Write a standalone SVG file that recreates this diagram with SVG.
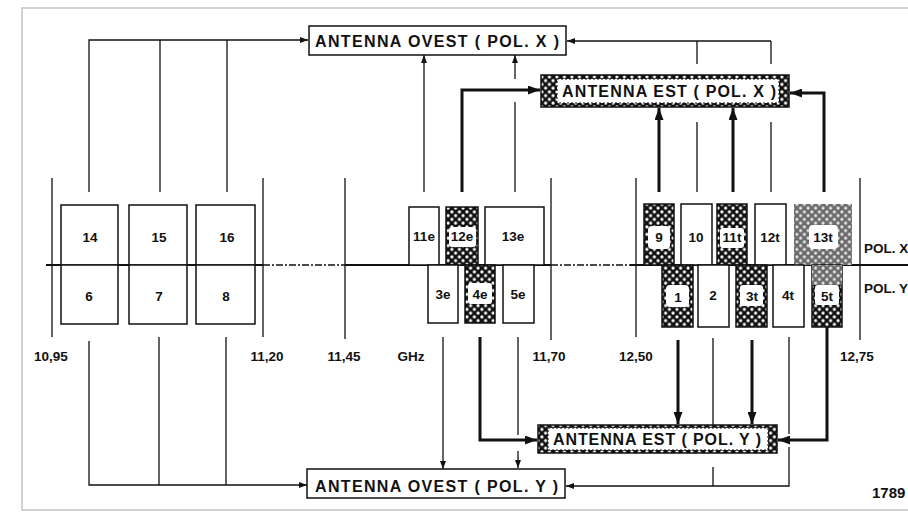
<svg xmlns="http://www.w3.org/2000/svg" width="908" height="513" viewBox="0 0 908 513">
<defs>
<pattern id="dots" width="7.5" height="7.5" patternUnits="userSpaceOnUse">
<rect width="7.5" height="7.5" fill="#111"/>
<circle cx="1.9" cy="1.9" r="1.6" fill="#fff"/>
<circle cx="5.6" cy="5.6" r="1.6" fill="#fff"/>
</pattern>
<pattern id="gdots" width="7.5" height="7.5" patternUnits="userSpaceOnUse">
<rect width="7.5" height="7.5" fill="#6a6a6a"/>
<circle cx="1.9" cy="1.9" r="1.6" fill="#e4e4e4"/>
<circle cx="5.6" cy="5.6" r="1.6" fill="#e4e4e4"/>
</pattern>
<marker id="a" markerUnits="userSpaceOnUse" markerWidth="8" markerHeight="6" refX="8" refY="3" orient="auto">
<path d="M0,0 L8,3 L0,6 z" fill="#111"/>
</marker>
<marker id="A" markerUnits="userSpaceOnUse" markerWidth="12" markerHeight="9" refX="12" refY="4.5" orient="auto">
<path d="M0,0 L12,4.5 L0,9 z" fill="#111"/>
</marker>
</defs>
<style>
.frame{fill:none;stroke:#c4c4c4;stroke-width:1.5}
.box{fill:#fff;stroke:#111;stroke-width:1.5}
.pat{fill:url(#dots);stroke:#111;stroke-width:1.5}
.gpat{fill:url(#gdots);stroke:none}
.t{fill:#fff;stroke:none}
.thin{fill:none;stroke:#111;stroke-width:1.3}
.thick{fill:none;stroke:#111;stroke-width:3}
.axis{fill:none;stroke:#111;stroke-width:1.8}
.dd{fill:none;stroke:#111;stroke-width:1.5;stroke-dasharray:7 2 2 2}
.lbl{font-family:"Liberation Sans",Arial,sans-serif;font-weight:bold;font-size:13.5px;fill:#111;text-anchor:middle}
.ax{font-family:"Liberation Sans",Arial,sans-serif;font-weight:bold;font-size:13.5px;fill:#111;text-anchor:middle}
.side{font-family:"Liberation Sans",Arial,sans-serif;font-weight:bold;font-size:13.5px;fill:#111}
.big{font-family:"Liberation Sans",Arial,sans-serif;font-weight:bold;font-size:16px;fill:#111}
.scal{fill:#fff;stroke:#111;stroke-width:1;stroke-dasharray:2 2}
</style>
<rect class="frame" x="22" y="8" width="900" height="502"/>

<g id="axis">
<path class="axis" d="M46,265 H263 M345,265 H551 M630,265 H908"/>
<path class="dd" d="M263,265 H345 M551,265 H630"/>
<path class="thin" d="M52,178 V337 M263,178 V337 M345,178 V339 M551,178 V340 M636,178 V337 M860,178 V340"/>
<text class="ax" x="51" y="361">10,95</text>
<text class="ax" x="267" y="361">11,20</text>
<text class="ax" x="344" y="361">11,45</text>
<text class="ax" x="411" y="361">GHz</text>
<text class="ax" x="549" y="361">11,70</text>
<text class="ax" x="636" y="361">12,50</text>
<text class="ax" x="857" y="361">12,75</text>
<text class="side" x="864" y="253">POL. X</text>
<text class="side" x="864" y="293">POL. Y</text>
<text class="side" x="872" y="498" style="font-size:15px">1789</text>
</g>

<g id="connectors">
<path class="thin" d="M89,192 V40 H308" marker-end="url(#a)"/>
<path class="thin" d="M160,192 V40 M227,192 V40"/>
<path class="thin" d="M89,341 V485 H307" marker-end="url(#a)"/>
<path class="thin" d="M159,337 V485 M226,337 V485"/>
<path class="thin" d="M424,192 V55" marker-end="url(#a)"/>
<path class="thin" d="M515,192 V102"/>
<path class="thin" d="M515,79 V55" marker-end="url(#a)"/>
<path class="thick" d="M462,192 V90 H540" marker-end="url(#A)"/>
<path class="thick" d="M659,192 V108" marker-end="url(#A)"/>
<path class="thick" d="M733,192 V108" marker-end="url(#A)"/>
<path class="thick" d="M824,192 V93 H790" marker-end="url(#A)"/>
<path class="thin" d="M697,192 V122 M771,192 V122"/>
<path class="thin" d="M697,64 V41 M771,64 V41 M771,41 H567" marker-end="url(#a)"/>
<path class="thin" d="M443,337 V469" marker-end="url(#a)"/>
<path class="thin" d="M518,337 V435"/>
<path class="thin" d="M518,451 V468" marker-end="url(#a)"/>
<path class="thick" d="M480,337 V440 H537" marker-end="url(#A)"/>
<path class="thick" d="M678,340 V424" marker-end="url(#A)"/>
<path class="thick" d="M752,340 V424" marker-end="url(#A)"/>
<path class="thick" d="M827,327 V440 H778" marker-end="url(#A)"/>
<path class="thin" d="M713,338 V425 M713,467 V486 M789,337 V434"/>
<path class="thin" d="M789,447 V486 H566" marker-end="url(#a)"/>
</g>

<g id="n14"><rect class="box" x="61" y="205" width="57" height="60"/><text class="lbl" x="90" y="242">14</text></g>
<g id="n6"><rect class="box" x="61" y="265" width="57" height="59"/><text class="lbl" x="89" y="301">6</text></g>
<g id="n15"><rect class="box" x="129" y="205" width="58" height="60"/><text class="lbl" x="159" y="242">15</text></g>
<g id="n7"><rect class="box" x="129" y="265" width="58" height="59"/><text class="lbl" x="159" y="301">7</text></g>
<g id="n16"><rect class="box" x="196" y="205" width="59" height="60"/><text class="lbl" x="227" y="242">16</text></g>
<g id="n8"><rect class="box" x="196" y="265" width="59" height="59"/><text class="lbl" x="226" y="301">8</text></g>

<g id="n11e"><rect class="box" x="409" y="207" width="30" height="58"/><text class="lbl" x="424" y="241">11e</text></g>
<g id="n12e"><rect class="pat" x="446" y="207" width="32" height="58"/><rect class="t" x="449" y="227" width="27" height="20" rx="3"/><text class="lbl" x="462" y="241">12e</text></g>
<g id="n13e"><rect class="box" x="485" y="207" width="59" height="58"/><text class="lbl" x="513" y="241">13e</text></g>
<g id="n3e"><rect class="box" x="428" y="265" width="30" height="58"/><text class="lbl" x="443" y="299">3e</text></g>
<g id="n4e"><rect class="pat" x="465" y="265" width="30" height="58"/><rect class="t" x="468" y="283" width="24" height="21" rx="3"/><text class="lbl" x="480" y="299">4e</text></g>
<g id="n5e"><rect class="box" x="503" y="265" width="31" height="58"/><text class="lbl" x="518" y="299">5e</text></g>

<g id="n9"><rect class="pat" x="644" y="204" width="30" height="61"/><rect class="t" x="648" y="226" width="22" height="23" rx="4"/><text class="lbl" x="659" y="242">9</text></g>
<g id="n10"><rect class="box" x="681" y="204" width="31" height="61"/><text class="lbl" x="696" y="242">10</text></g>
<g id="n11t"><rect class="pat" x="717" y="204" width="30" height="61"/><rect class="t" x="720" y="228" width="24" height="20" rx="3"/><text class="lbl" x="732" y="242">11t</text></g>
<g id="n12t"><rect class="box" x="755" y="204" width="31" height="61"/><text class="lbl" x="770" y="242">12t</text></g>
<g id="n13t"><rect class="gpat" x="794" y="204" width="58" height="61"/><rect class="t" x="809" y="225" width="29" height="24" rx="4"/><text class="lbl" x="823" y="242">13t</text></g>
<g id="n1"><rect class="pat" x="662" y="265" width="31" height="62"/><rect class="t" x="666" y="285" width="23" height="22" rx="4"/><text class="lbl" x="678" y="302">1</text></g>
<g id="n2"><rect class="box" x="698" y="265" width="31" height="62"/><text class="lbl" x="713" y="300">2</text></g>
<g id="n3t"><rect class="pat" x="736" y="265" width="31" height="62"/><rect class="t" x="740" y="285" width="23" height="21" rx="3"/><text class="lbl" x="752" y="301">3t</text></g>
<g id="n4t"><rect class="box" x="773" y="265" width="31" height="62"/><text class="lbl" x="788" y="300">4t</text></g>
<g id="n5t"><rect class="pat" x="812" y="265" width="30" height="62"/><rect class="gpat" x="812" y="265" width="30" height="20"/><rect class="t" x="815" y="285" width="24" height="20" rx="3"/><text class="lbl" x="827" y="301">5t</text></g>

<g id="ovestX"><rect class="box" x="309" y="26" width="257" height="29"/><text class="big" x="315" y="47" textLength="244" lengthAdjust="spacing">ANTENNA OVEST ( POL. X )</text></g>
<g id="estX"><rect class="pat" x="541" y="75" width="248" height="32"/><rect class="scal" x="557" y="79" width="222" height="24"/><text class="big" x="562" y="97" textLength="214" lengthAdjust="spacing">ANTENNA EST ( POL. X )</text></g>
<g id="estY"><rect class="pat" x="538" y="425" width="239" height="28"/><rect class="scal" x="548" y="428" width="220" height="22"/><text class="big" x="553" y="445" textLength="208" lengthAdjust="spacing">ANTENNA EST ( POL. Y )</text></g>
<g id="ovestY"><rect class="box" x="307" y="469" width="258" height="29"/><text class="big" x="315" y="492" textLength="243" lengthAdjust="spacing">ANTENNA OVEST ( POL. Y )</text></g>
</svg>
